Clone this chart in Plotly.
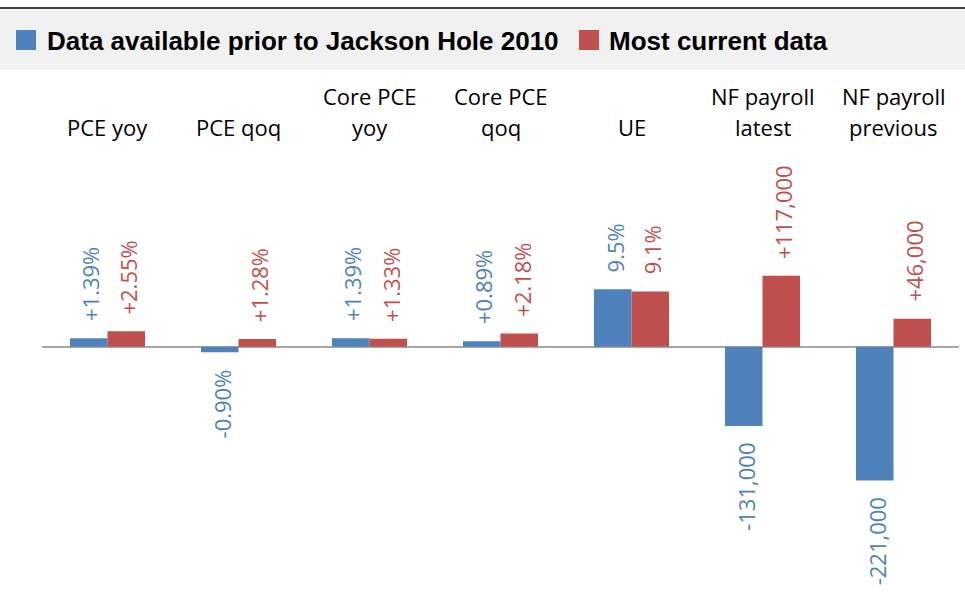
import plotly.graph_objects as go

# ---- data ----
categories = ["PCE yoy", "PCE qoq", "Core PCE<br>yoy", "Core PCE<br>qoq", "UE",
              "NF payroll<br>latest", "NF payroll<br>previous"]
series_names = ["Data available prior to Jackson Hole 2010", "Most current data"]
# percentages as-is; payroll changes in units of 10,000 jobs
prior_values = [1.39, -0.90, 1.39, 0.89, 9.5, -13.1, -22.1]
current_values = [2.55, 1.28, 1.33, 2.18, 9.1, 11.7, 4.6]
prior_labels = ["+1.39%", "-0.90%", "+1.39%", "+0.89%", "9.5%", "-131,000", "-221,000"]
current_labels = ["+2.55%", "+1.28%", "+1.33%", "+2.18%", "9.1%", "+117,000", "+46,000"]

# ---- style ----
BLUE = "#4F81BD"
RED = "#C0504D"
W, H = 965, 592
ML, MR, MT, MB = 42, 6, 165, 3
PW, PH = W - ML - MR, H - MT - MB
BARGAP = 0.427
YR = [-40, 30]
LABEL_FONT = "Open Sans"


def px_x(px):
    return (px - ML) / PW


def px_y(py):
    return (H - MB - py) / PH


fig = go.Figure()
fig.add_trace(go.Bar(x=categories, y=prior_values, name=series_names[0],
                     marker=dict(color=BLUE, line=dict(width=0)), showlegend=False))
fig.add_trace(go.Bar(x=categories, y=current_values, name=series_names[1],
                     marker=dict(color=RED, line=dict(width=0)), showlegend=False))

annotations = []
half = (1 - BARGAP) / 4
for vals, labs, color, off in [(prior_values, prior_labels, BLUE, -half),
                               (current_values, current_labels, RED, half)]:
    for i, (v, t) in enumerate(zip(vals, labs)):
        pos = v >= 0
        annotations.append(dict(
            x=i + off, y=v, xref="x", yref="y", text=t, showarrow=False,
            textangle=-90, xanchor="center", yanchor="bottom" if pos else "top",
            yshift=15 if pos else -15, xshift=2,
            font=dict(family=LABEL_FONT, size=22, color=color)))

# category labels (top), one annotation per line, bottom-aligned
for i, c in enumerate(categories):
    lines = c.split("<br>")
    for k, line in enumerate(reversed(lines)):
        annotations.append(dict(
            x=i, y=px_y(144 - 31 * k), xref="x", yref="paper", text=line,
            showarrow=False, xanchor="center", yanchor="bottom",
            font=dict(family=LABEL_FONT, size=22, color="#000000")))

# legend texts
legend_text_x = [46, 608]
legend_swatch_x = [16, 579]
for name, tx in zip(series_names, legend_text_x):
    annotations.append(dict(
        x=px_x(tx), y=px_y(41), xref="paper", yref="paper", text="<b>" + name + "</b>",
        showarrow=False, xanchor="left", yanchor="middle", borderpad=0,
        font=dict(family="Liberation Sans", size=26, color="#000000")))

shapes = [
    dict(type="rect", xref="paper", yref="paper", x0=px_x(0), x1=px_x(W),
         y0=px_y(70), y1=px_y(10), fillcolor="#F1F1F1", line=dict(width=0), layer="below"),
    dict(type="line", xref="paper", yref="paper", x0=px_x(0), x1=px_x(W),
         y0=px_y(8), y1=px_y(8), line=dict(color="#000000", width=1.5)),
]
for sx, col in zip(legend_swatch_x, [BLUE, RED]):
    shapes.append(dict(type="rect", xref="paper", yref="paper", x0=px_x(sx), x1=px_x(sx + 20),
                       y0=px_y(50), y1=px_y(30), fillcolor=col, line=dict(width=0)))

fig.update_layout(
    width=W, height=H, margin=dict(l=ML, r=MR, t=MT, b=MB, pad=0),
    paper_bgcolor="white", plot_bgcolor="white",
    barmode="group", bargap=BARGAP, bargroupgap=0,
    xaxis=dict(showticklabels=False, showgrid=False, zeroline=False, showline=False,
               ticks="", range=[-0.5, 6.5]),
    yaxis=dict(range=YR, showticklabels=False, showgrid=False, ticks="", showline=False,
               zeroline=True, zerolinecolor="#A6A6A6", zerolinewidth=1.5),
    annotations=annotations, shapes=shapes,
)
fig.write_html("out.html")
